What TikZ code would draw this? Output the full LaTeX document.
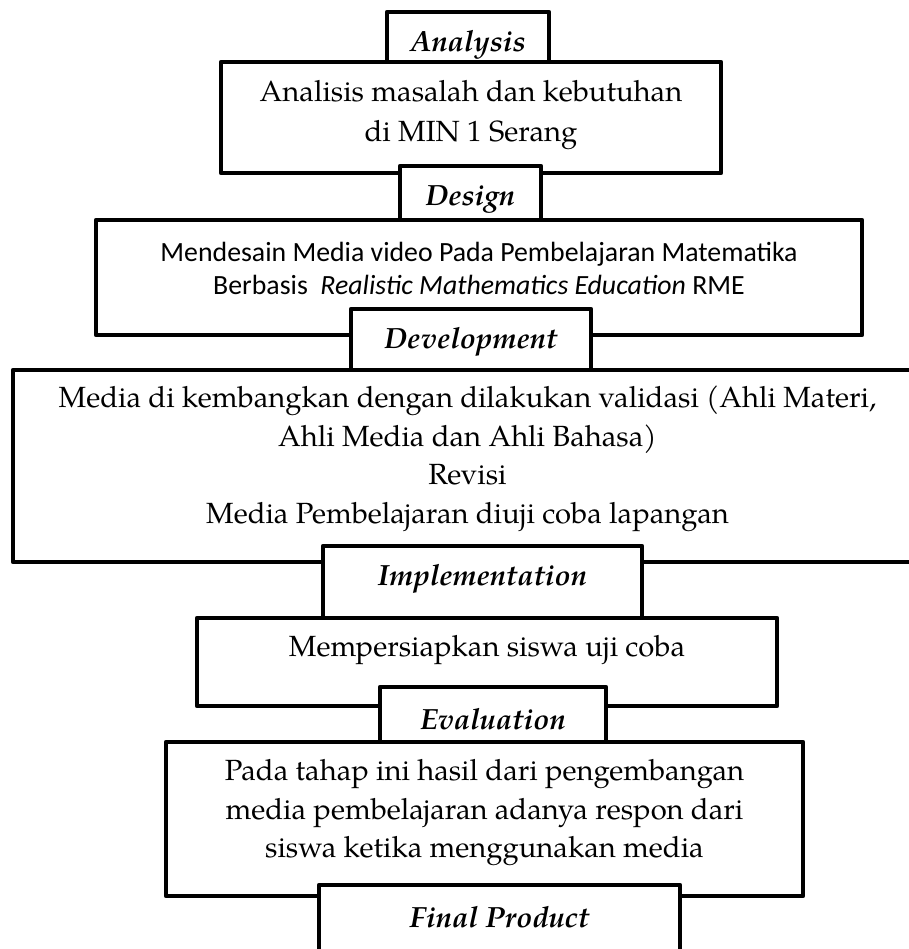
\documentclass[tikz,border=0pt]{standalone}
\usepackage{fontspec}
\setmainfont{texgyrepagella}[Extension=.otf,UprightFont=*-regular,ItalicFont=*-italic,BoldFont=*-bold,BoldItalicFont=*-bolditalic]
\newfontfamily\calibrifont{Carlito}
\usetikzlibrary{positioning}

\tikzset{
    stepframe/.style={draw, line width=2.1pt, line join=round, fill=white},
    stagetab/.style={draw, line width=2.1pt, line join=round, fill=white},
    body/.style={font=\fontsize{14.6}{20}\selectfont, align=center, inner sep=0pt},
    bodysans/.style={font=\calibrifont\fontsize{13.9}{16.5}\selectfont, align=center, inner sep=0pt},
    stage/.style={font=\fontsize{14.6}{16}\selectfont\bfseries\itshape, inner sep=0pt}
}

\begin{document}
\begin{tikzpicture}[x=0.5pt,y=-0.5pt]

\useasboundingbox (0,0) rectangle (909,949);
\clip (0,0) rectangle (909,949);

% Analysis
\draw [stagetab] (387,12) rectangle (549,62);
\node [stage] (analysis) at (468,45) {Analysis};
\draw [stepframe] (221,62) rectangle (721,173);
\node [body] (analisis) at (471,115) {Analisis masalah dan kebutuhan\\di MIN 1 Serang};

% Design
\draw [stagetab] (400,166) rectangle (541,220);
\node [stage] (design) at (470.5,199) {Design};
\draw [stepframe] (96,220) rectangle (862,335);
\node [bodysans] (desain) at (479,268) {Mendesain Media video Pada Pembelajaran Matematika\\Berbasis\ \ \textit{Realistic Mathematics Education} RME};

% Development
\draw [stagetab] (351,309) rectangle (591,370);
\node [stage] (development) at (471,342) {Development};
\draw [stepframe] (13,370) rectangle (925,562);
\node [body, font=\fontsize{14.6}{19.25}\selectfont] (validasi) at (467.5,459) {Media di kembangkan dengan dilakukan validasi (Ahli Materi,\\Ahli Media dan Ahli Bahasa)\\Revisi\\Media Pembelajaran diuji coba lapangan};

% Implementation
\draw [stagetab] (323,546) rectangle (642,618);
\node [stage] (implementation) at (482.5,579) {Implementation};
\draw [stepframe] (197,618) rectangle (777,706);
\node [body] (persiapan) at (487,650) {Mempersiapkan siswa uji coba};

% Evaluation
\draw [stagetab] (380,687) rectangle (606,742);
\node [stage] (evaluation) at (493,719) {Evaluation};
\draw [stepframe] (166,742) rectangle (803,896);
\node [body, font=\fontsize{14.6}{19.25}\selectfont] (hasil) at (484.5,813) {Pada tahap ini hasil dari pengembangan\\media pembelajaran adanya respon dari\\siswa ketika menggunakan media};

% Final Product
\draw [stagetab] (319,885) rectangle (680,960);
\node [stage] (final) at (499.5,917) {Final Product};

\end{tikzpicture}
\end{document}
